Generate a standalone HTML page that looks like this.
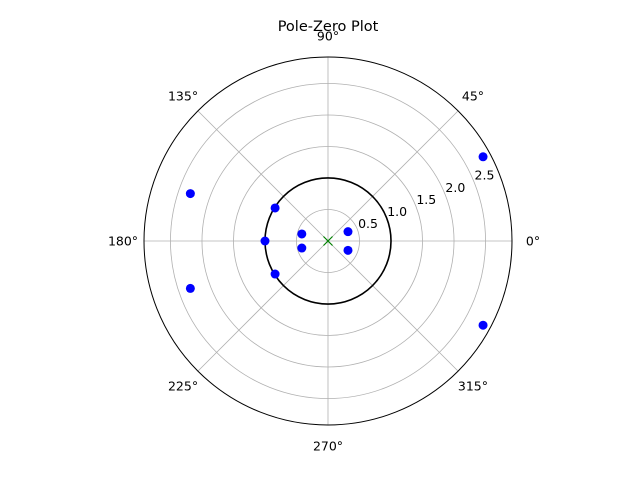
<!DOCTYPE html>
<html><head><meta charset="utf-8"><style>
html,body{margin:0;padding:0;background:#fff}
svg{display:block;font-family:"DejaVu Sans","Liberation Sans",sans-serif}
</style></head><body>
<svg id="chart" width="640" height="480" viewBox="0 0 640 480">
<rect width="640" height="480" fill="#fff"/>
<text x="328" y="31" text-anchor="middle" font-size="14.5">Pole-Zero Plot</text>
<g id="grid"></g><g id="marks"></g>
</svg>
<script>
const radialTicks=[0.5,1.0,1.5,2.0,2.5];
const radialTickLabels=["0.5","1.0","1.5","2.0","2.5"];
const angleTicks=[0,45,90,135,180,225,270,315];
const angleTickLabels=["0°","45°","90°","135°","180°","225°","270°","315°"];
const poleR=[2.8,2.8,2.31,2.31,0.99,0.99,1.0,0.43,0.43,0.35,0.35];
const poleTheta=[28.5,-28.5,161,-161,148,-148,180,165,-165,25,-25];
const zeroR=[0];
const zeroTheta=[0];
const unitCircleR=[1];
const rMax=2.92;
const cx=328,cy=241,R=184;
const ns="http://www.w3.org/2000/svg";
function rs(r){return r/rMax*R;}
function px(r,t){return cx+rs(r)*Math.cos(t*Math.PI/180);}
function py(r,t){return cy-rs(r)*Math.sin(t*Math.PI/180);}
function mk(tag,attrs,parent){const e=document.createElementNS(ns,tag);for(const k in attrs)e.setAttribute(k,attrs[k]);parent.appendChild(e);return e;}
const g=document.getElementById('grid'),m=document.getElementById('marks');
radialTicks.forEach((r,i)=>{
 const c=mk('circle',{cx:cx,cy:cy,r:rs(r),fill:'none',stroke:'#b0b0b0','stroke-width':0.8},g);
 
 
 const t=mk('text',{x:px(r,22.5)+1,y:py(r,22.5)-1,'font-size':12.5,'text-anchor':'start'},g);
 t.textContent=radialTickLabels[i];
 
 
});
angleTicks.forEach((a,i)=>{
 const l=mk('line',{x1:cx,y1:cy,x2:px(rMax,a),y2:py(rMax,a),stroke:'#b0b0b0','stroke-width':0.8},g);
 
 
 const lx=cx+(R+21)*Math.cos(a*Math.PI/180),ly=cy-(R+21)*Math.sin(a*Math.PI/180);
 const t=mk('text',{x:lx,y:ly+4.5,'font-size':12.5,'text-anchor':'middle'},g);
 t.textContent=angleTickLabels[i];
 
 
});
const frame=mk('circle',{cx:cx,cy:cy,r:R,fill:'none',stroke:'#000','stroke-width':1},g);


unitCircleR.forEach(r=>{
 const c=mk('circle',{cx:cx,cy:cy,r:rs(r),fill:'none',stroke:'#000','stroke-width':1.6},m);
 
 
});
poleR.forEach((r,i)=>{
 const c=mk('circle',{cx:px(r,poleTheta[i]),cy:py(r,poleTheta[i]),r:4.5,fill:'#0000ff'},m);
 
 
});
zeroR.forEach((r,i)=>{
 const x=px(r,zeroTheta[i]),y=py(r,zeroTheta[i]);
 const p=mk('path',{d:`M${x-4.5},${y-4.5}L${x+4.5},${y+4.5}M${x-4.5},${y+4.5}L${x+4.5},${y-4.5}`,stroke:'#008000','stroke-width':1.2,fill:'none'},m);
 
 
});
</script>
</body></html>
